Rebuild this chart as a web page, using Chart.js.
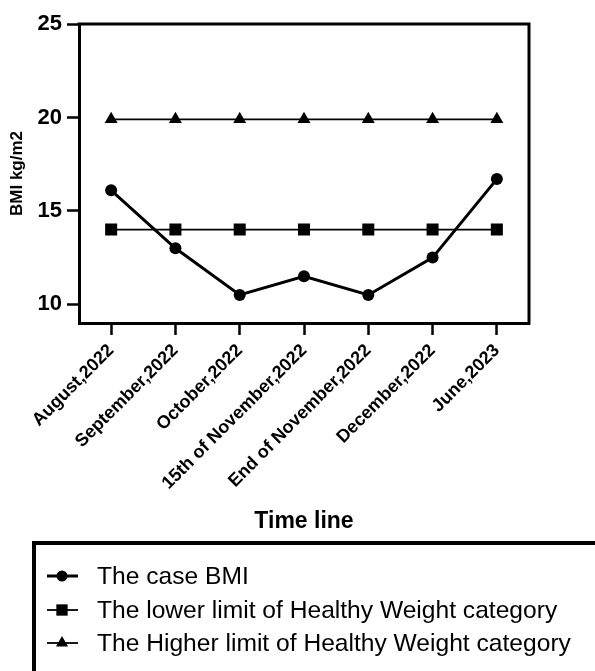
<!DOCTYPE html>
<html>
<head>
<meta charset="utf-8">
<script src="https://cdn.jsdelivr.net/npm/chart.js"></script>
<style>
  html, body { margin: 0; padding: 0; background: #fff; }
  #wrap { width: 595px; height: 671px; }
</style>
</head>
<body>
<div id="wrap"><canvas id="myChart" width="595" height="671"></canvas></div>
<script>
const timeLabels = ["August,2022", "September,2022", "October,2022", "15th of November,2022", "End of November,2022", "December,2022", "June,2023"];
const caseBmi = [16.1, 13, 10.5, 11.5, 10.5, 12.5, 16.7];
const lowerLimit = [14, 14, 14, 14, 14, 14, 14];
const higherLimit = [19.9, 19.9, 19.9, 19.9, 19.9, 19.9, 19.9];
const yTicks = [10, 15, 20, 25];
const seriesNames = ["The case BMI", "The lower limit of Healthy Weight category", "The Higher limit of Healthy Weight category"];

const FONT = "'Liberation Sans', Arial, sans-serif";

// draw one marker (used by the legend)
function drawMarker(ctx, style, x, y, r) {
  ctx.beginPath();
  if (style === "circle") {
    ctx.arc(x, y, r, 0, Math.PI * 2);
  } else if (style === "rect") {
    const s = r * Math.SQRT1_2;
    ctx.rect(x - s, y - s, 2 * s, 2 * s);
  } else {
    ctx.moveTo(x, y - r);
    ctx.lineTo(x + r * Math.sin(Math.PI * 2 / 3), y - r * Math.cos(Math.PI * 2 / 3));
    ctx.lineTo(x + r * Math.sin(Math.PI * 4 / 3), y - r * Math.cos(Math.PI * 4 / 3));
    ctx.closePath();
  }
  ctx.fill();
}

const frameAndLegend = {
  id: "frameAndLegend",
  afterDraw(chart) {
    const { ctx, chartArea: a } = chart;
    ctx.save();
    ctx.strokeStyle = "#000";
    ctx.fillStyle = "#000";
    // top and right of the plot frame
    ctx.lineWidth = 3;
    ctx.beginPath();
    ctx.moveTo(a.left - 1.5, a.top);
    ctx.lineTo(a.right, a.top);
    ctx.lineTo(a.right, a.bottom + 1.5);
    ctx.stroke();

    // legend box, runs off the right and bottom edge
    ctx.lineWidth = 4;
    ctx.strokeRect(34, 543, 700, 300);

    const rows = [576, 610, 643];
    chart.data.datasets.forEach((ds, i) => {
      const y = rows[i];
      ctx.lineWidth = i === 0 ? 3 : 1.8;
      ctx.beginPath();
      ctx.moveTo(47, y);
      ctx.lineTo(78, y);
      ctx.stroke();
      drawMarker(ctx, ds.pointStyle, 62, y, ds.pointStyle === "rect" ? 8 : (ds.pointStyle === "triangle" ? 7 : 5.5));
      ctx.font = "24.6px " + FONT;
      ctx.textBaseline = "middle";
      ctx.textAlign = "left";
      ctx.fillText(ds.label, 97, y + 1);
    });
    ctx.restore();
  }
};

const ctx = document.getElementById("myChart").getContext("2d");
const chart = new Chart(ctx, {
  type: "line",
  data: {
    labels: timeLabels,
    datasets: [
      {
        label: seriesNames[0],
        data: caseBmi,
        borderColor: "#000",
        backgroundColor: "#000",
        borderWidth: 3,
        pointStyle: "circle",
        pointRadius: 6,
        pointBorderWidth: 0,
        tension: 0,
      },
      {
        label: seriesNames[1],
        data: lowerLimit,
        borderColor: "#000",
        backgroundColor: "#000",
        borderWidth: 1.8,
        pointStyle: "rect",
        pointRadius: 8.5,
        pointBorderWidth: 0,
      },
      {
        label: seriesNames[2],
        data: higherLimit,
        borderColor: "#000",
        backgroundColor: "#000",
        borderWidth: 1.8,
        pointStyle: "triangle",
        pointRadius: 7.5,
        pointBorderWidth: 0,
      },
    ],
  },
  options: {
    responsive: false,
    animation: false,
    devicePixelRatio: 1,
    layout: {
      padding: { top: 24, right: 66, bottom: 128, left: 0 },
    },
    plugins: {
      legend: { display: false },
      tooltip: { enabled: false },
    },
    scales: {
      x: {
        offset: true,
        afterFit(scale) { scale.height = 220; },
        border: { display: true, color: "#000", width: 3 },
        grid: {
          drawOnChartArea: false,
          drawTicks: true,
          tickLength: 12,
          tickColor: "#000",
          tickWidth: 2.5,
        },
        ticks: {
          color: "#000",
          font: { family: FONT, size: 18, weight: "bold" },
          minRotation: 45,
          maxRotation: 45,
          autoSkip: false,
          padding: 5,
        },
        title: {
          display: true,
          text: "Time line",
          color: "#000",
          font: { family: FONT, size: 23, weight: "bold" },
          padding: { top: 0, bottom: 8 },
        },
      },
      y: {
        min: 9,
        max: 25,
        afterFit(scale) { scale.width = 79; },
        afterBuildTicks(scale) { scale.ticks = yTicks.map(v => ({ value: v })); },
        border: { display: true, color: "#000", width: 3 },
        grid: {
          drawOnChartArea: false,
          drawTicks: true,
          tickLength: 12,
          tickColor: "#000",
          tickWidth: 2.5,
        },
        ticks: {
          color: "#000",
          font: { family: FONT, size: 22, weight: "bold" },
          padding: 5,
        },
        title: {
          display: true,
          text: "BMI kg/m2",
          color: "#000",
          font: { family: FONT, size: 17, weight: "bold" },
          padding: { top: 7, bottom: 0 },
        },
      },
    },
  },
  plugins: [frameAndLegend],
});
</script>
</body>
</html>
